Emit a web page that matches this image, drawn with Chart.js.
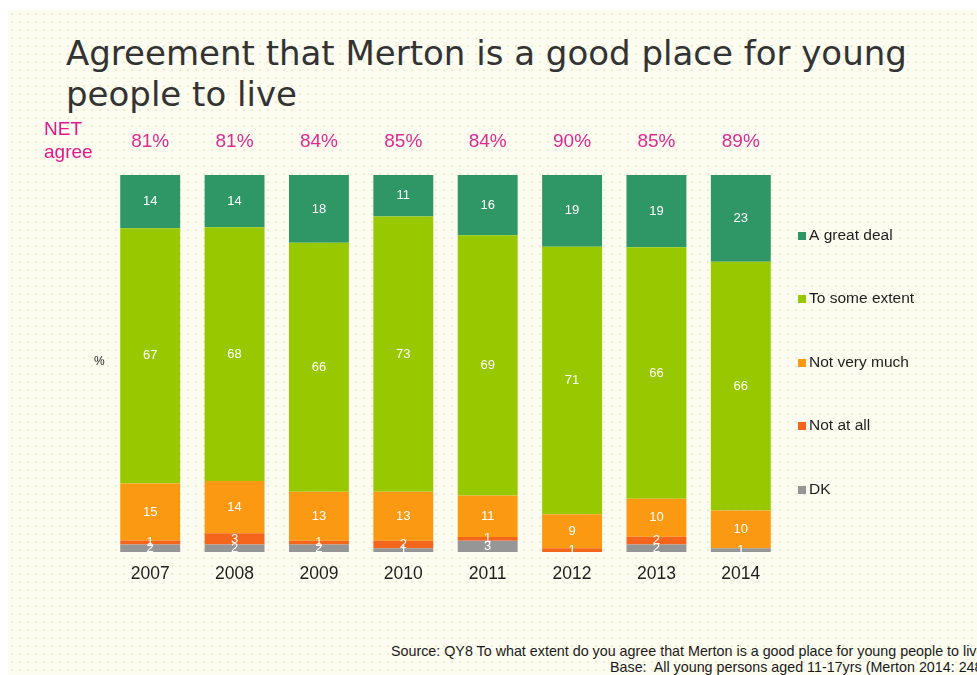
<!DOCTYPE html>
<html>
<head>
<meta charset="utf-8">
<script src="https://cdn.jsdelivr.net/npm/chart.js@4/dist/chart.umd.min.js"></script>
<style>
  html, body { margin: 0; padding: 0; width: 977px; height: 675px; overflow: hidden; background: #ffffff; }
  #frame {
    position: absolute; left: 8px; top: 10px; width: 969px; height: 665px;
    background-color: #fcfcf1;
    background-image: radial-gradient(circle, #ecedcf 1.1px, transparent 1.6px);
    background-size: 8px 8px;
  }
  #title {
    position: absolute; left: 66px; top: 33px; margin: 0;
    font-family: "DejaVu Sans", Verdana, sans-serif; font-weight: normal;
    font-size: 34px; line-height: 41px; color: #333333; white-space: nowrap;
  }
  .src {
    position: absolute; font-family: "Liberation Sans", Arial, sans-serif;
    font-size: 14.3px; color: #1a1a1a; white-space: nowrap;
  }
  #chartWrap { position: absolute; left: 0; top: 0; width: 977px; height: 675px; }
</style>
</head>
<body>
<div id="frame"></div>
<h1 id="title">Agreement that Merton is a good place for young<br>people to live</h1>
<div class="src" style="left:391px; top:643px;">Source: QY8 To what extent do you agree that Merton is a good place for young people to live?</div>
<div class="src" style="left:610px; top:659px;">Base:&nbsp; All young persons aged 11-17yrs (Merton 2014: 248)</div>
<div id="chartWrap"><canvas id="c" width="977" height="675"></canvas></div>
<script>
// Survey years
const years = ['2007', '2008', '2009', '2010', '2011', '2012', '2013', '2014'];

// Response shares (%) per year
const greatDeal   = [14, 14, 18, 11, 16, 19, 19, 23];
const someExtent  = [67, 68, 66, 73, 69, 71, 66, 66];
const notVeryMuch = [15, 14, 13, 13, 11, 9, 10, 10];
const notAtAll    = [1, 3, 1, 2, 1, 1, 2, 0];
const dontKnow    = [2, 2, 2, 1, 3, 0, 2, 1];

// NET agree figures shown above each bar
const netAgree = [81, 81, 84, 85, 84, 90, 85, 89];

const seriesNames  = ['DK', 'Not at all', 'Not very much', 'To some extent', 'A great deal'];
const seriesValues = [dontKnow, notAtAll, notVeryMuch, someExtent, greatDeal];
const seriesColors = ['#969696', '#f4661b', '#fb9a12', '#98c800', '#2f9766'];

// Each bar is scaled to fill 100%
const totals = years.map((_, i) => seriesValues.reduce((s, arr) => s + arr[i], 0));

const datasets = seriesNames.map((name, k) => ({
  label: name,
  raw: seriesValues[k],
  data: seriesValues[k].map((v, i) => v / totals[i] * 100),
  backgroundColor: seriesColors[k],
  borderWidth: 0,
  categoryPercentage: 1,
  barPercentage: 0.71
}));

const MAGENTA = '#df2a8e';

// Values inside segments, NET row, legend and the "%" marker
const annotate = {
  id: 'annotate',
  afterDatasetsDraw(chart) {
    const ctx = chart.ctx;
    ctx.save();

    // segment values
    ctx.font = '13px "Liberation Sans", Arial, sans-serif';
    ctx.fillStyle = '#ffffff';
    ctx.textAlign = 'center';
    ctx.textBaseline = 'middle';
    chart.data.datasets.forEach((ds, k) => {
      const meta = chart.getDatasetMeta(k);
      meta.data.forEach((bar, i) => {
        const v = ds.raw[i];
        if (!v) return;
        const mid = (bar.y + bar.base) / 2;
        ctx.fillText(String(v), bar.x, mid);
      });
    });

    // NET agree row
    const xScale = chart.scales.x;
    ctx.fillStyle = MAGENTA;
    ctx.font = '19px "Liberation Sans", Arial, sans-serif';
    netAgree.forEach((v, i) => {
      ctx.fillText(v + '%', xScale.getPixelForValue(i), 142);
    });
    ctx.textAlign = 'left';
    ctx.fillStyle = '#e3198b';
    ctx.fillText('NET', 44, 130);
    ctx.fillText('agree', 44, 153);

    // "%" marker
    ctx.fillStyle = '#222222';
    ctx.font = '12px "Liberation Sans", Arial, sans-serif';
    ctx.fillText('%', 94, 362);

    // legend, top item = last dataset
    ctx.font = '15.5px "Liberation Sans", Arial, sans-serif';
    const legendY = [236, 299, 363, 426, 490];
    for (let j = 0; j < seriesNames.length; j++) {
      const k = seriesNames.length - 1 - j;
      ctx.fillStyle = seriesColors[k];
      ctx.fillRect(798, legendY[j] - 4, 8, 8);
      ctx.fillStyle = '#1e1e1e';
      ctx.fillText(seriesNames[k], 809, legendY[j]);
    }
    ctx.restore();
  }
};

new Chart(document.getElementById('c'), {
  type: 'bar',
  data: { labels: years, datasets },
  options: {
    responsive: false,
    animation: false,
    layout: { padding: { left: 108, right: 194, top: 175, bottom: 86 } },
    plugins: { legend: { display: false }, tooltip: { enabled: false } },
    scales: {
      x: {
        stacked: true,
        grid: { display: false },
        border: { display: false },
        ticks: {
          color: '#1e1e1e',
          padding: 4,
          font: { family: '"Liberation Sans", Arial, sans-serif', size: 17.5 }
        }
      },
      y: { stacked: true, min: 0, max: 100, display: false }
    }
  },
  plugins: [annotate]
});
</script>
</body>
</html>
